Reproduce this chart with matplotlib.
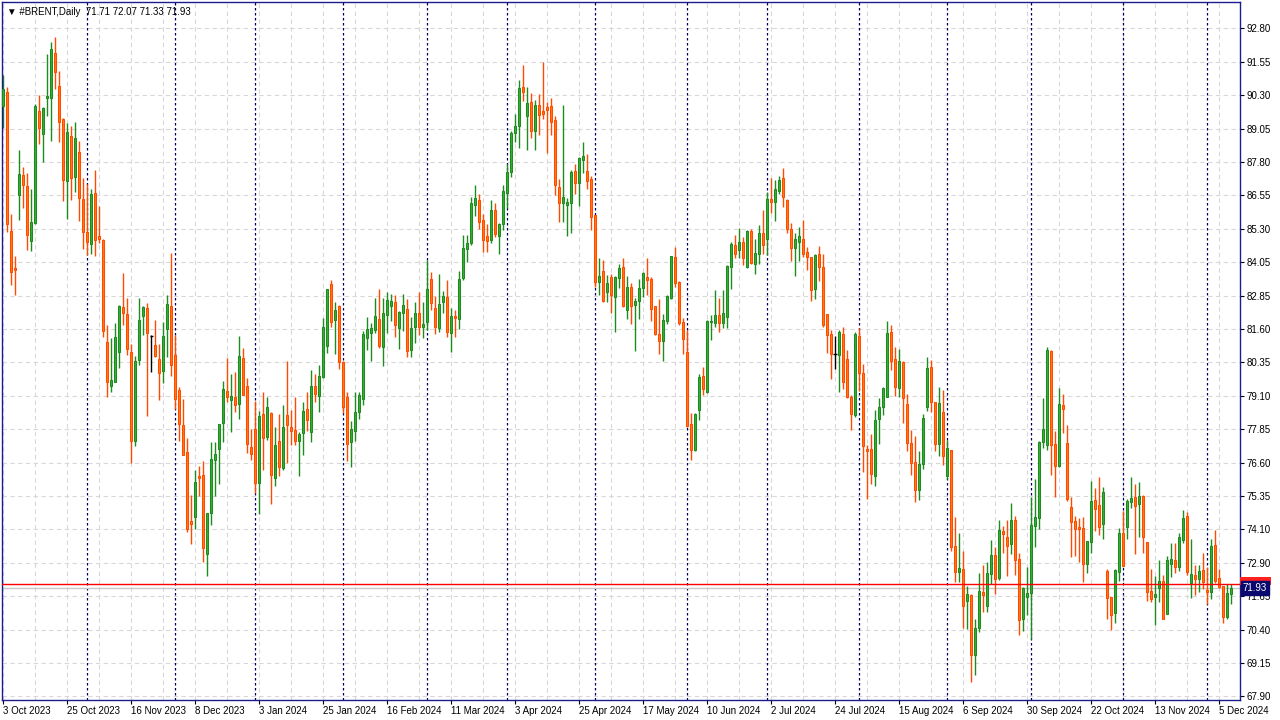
import matplotlib
matplotlib.use('Agg')
import matplotlib.pyplot as plt
from matplotlib.patches import Rectangle
import numpy as np

# Daily candles #BRENT, 3 Oct 2023 .. 10 Dec 2024
opens = [
    89.92, 90.43, 85.25, 83.87, 86.58, 87.32, 86.92, 84.86, 85.56, 89.72,
    88.85, 90.22, 90.19, 91.87, 90.64, 89.41, 87.09, 88.77, 87.27, 88.18,
    86.43, 85.20, 84.75, 86.65, 85.06, 84.90, 81.10, 79.48, 79.63, 80.75,
    82.40, 82.14, 80.72, 77.43, 80.45, 82.09, 82.36, 81.33, 80.98, 80.46,
    80.04, 81.61, 82.45, 80.61, 79.32, 78.02, 77.01, 74.44, 74.60, 76.12,
    76.14, 73.20, 74.75, 76.72, 77.11, 78.10, 79.27, 78.93, 79.05, 78.80,
    80.50, 79.46, 77.18, 77.85, 75.84, 78.41, 77.56, 78.45, 76.03, 77.41,
    76.40, 78.38, 77.93, 77.83, 77.41, 77.70, 78.60, 77.77, 79.46, 79.08,
    79.79, 80.97, 83.26, 81.92, 82.45, 80.36, 79.06, 77.39, 77.78, 78.49,
    79.00, 81.27, 81.46, 81.57, 81.97, 80.91, 82.13, 82.44, 82.59, 81.64,
    82.20, 82.35, 80.80, 81.68, 82.18, 81.68, 81.87, 83.46, 82.38, 81.62,
    82.59, 82.77, 81.46, 82.09, 81.95, 83.51, 84.56, 84.79, 86.23, 86.40,
    85.66, 85.06, 84.92, 86.02, 85.07, 85.49, 86.67, 87.46, 88.91, 89.15,
    90.61, 89.54, 90.04, 88.99, 89.93, 89.72, 89.87, 89.90, 89.38, 86.89,
    86.27, 86.23, 86.30, 87.48, 87.05, 87.90, 87.47, 87.17, 85.83, 83.36,
    83.74, 82.97, 83.52, 82.80, 83.49, 83.89, 82.29, 83.15, 82.48, 82.65,
    83.11, 83.52, 83.44, 82.44, 81.39, 81.16, 81.90, 82.76, 84.28, 83.35,
    81.85, 80.72, 78.05, 77.08, 78.59, 79.84, 79.26, 81.87, 81.80, 82.10,
    81.83, 82.03, 83.92, 84.71, 84.53, 84.82, 83.89, 85.23, 84.00, 84.38,
    85.16, 84.96, 86.43, 86.34, 86.75, 87.21, 86.39, 85.31, 84.62, 84.84,
    84.93, 84.45, 84.26, 83.10, 84.38, 83.89, 82.14, 81.39, 80.66, 80.64,
    81.39, 80.48, 79.06, 78.40, 81.33, 79.94, 77.12, 77.12, 76.13, 78.23,
    78.70, 79.07, 81.48, 80.48, 79.41, 80.36, 78.80, 77.33, 76.62, 75.61,
    76.55, 78.67, 80.16, 78.86, 77.32, 78.50, 76.13, 77.08, 73.49, 72.55,
    72.64, 71.47, 71.67, 69.46, 70.43, 71.78, 71.25, 72.47, 73.17, 72.33,
    74.07, 73.84, 73.57, 74.48, 73.01, 70.80, 71.59, 71.77, 74.26, 74.56,
    77.39, 77.26, 80.76, 77.31, 76.48, 78.75, 77.33, 74.95, 74.43, 74.20,
    74.18, 72.82, 73.67, 75.21, 75.02, 74.31, 72.57, 71.60, 71.00, 72.55,
    73.99, 74.23, 75.13, 75.32, 75.06, 75.37, 73.65, 71.83, 71.62, 71.95,
    72.19, 70.98, 72.85, 72.98, 72.74, 73.74, 74.61, 72.11, 72.41, 72.29,
    72.61, 71.87, 71.80, 73.54, 72.30, 72.01, 70.87, 71.71,
]
highs = [
    91.06, 90.60, 85.88, 84.32, 88.27, 87.63, 87.40, 86.81, 89.98, 90.31,
    89.85, 91.84, 92.29, 92.48, 91.21, 89.45, 89.27, 89.16, 89.31, 88.60,
    87.22, 87.00, 86.81, 87.52, 86.18, 84.95, 81.74, 81.25, 81.80, 82.49,
    83.67, 82.74, 81.03, 80.59, 82.75, 82.45, 82.57, 81.37, 81.93, 81.02,
    81.85, 82.86, 84.44, 81.37, 79.44, 78.98, 77.53, 75.41, 76.34, 76.49,
    76.67, 74.75, 77.38, 77.37, 78.05, 79.65, 80.50, 79.92, 79.98, 81.33,
    80.88, 79.75, 77.87, 78.91, 78.54, 79.24, 79.06, 78.51, 77.94, 78.41,
    78.75, 80.39, 78.59, 79.06, 77.75, 78.87, 79.24, 80.06, 79.92, 80.25,
    81.99, 83.10, 83.41, 82.61, 82.49, 80.40, 79.24, 78.16, 79.23, 79.24,
    81.52, 82.04, 81.83, 82.75, 83.08, 82.75, 82.97, 82.91, 82.86, 82.25,
    82.90, 82.72, 82.05, 82.60, 82.96, 82.59, 84.17, 83.72, 82.82, 83.64,
    83.01, 83.42, 82.39, 82.29, 83.77, 85.10, 85.10, 86.50, 86.96, 86.63,
    85.87, 85.51, 86.40, 86.29, 85.54, 86.95, 87.73, 88.97, 89.59, 90.87,
    91.43, 90.61, 90.39, 90.12, 90.35, 91.56, 90.05, 90.20, 89.53, 87.18,
    89.94, 86.46, 87.51, 87.73, 88.02, 88.55, 88.12, 87.31, 85.85, 84.24,
    84.17, 83.61, 83.64, 83.57, 84.02, 84.24, 83.56, 83.31, 82.74, 83.46,
    83.72, 84.24, 83.52, 82.46, 82.71, 82.15, 82.85, 84.33, 84.65, 83.37,
    82.02, 81.56, 78.45, 78.48, 79.93, 80.18, 81.93, 82.12, 83.05, 82.75,
    83.05, 83.97, 84.85, 85.10, 85.36, 85.01, 85.30, 85.32, 84.95, 85.46,
    86.03, 86.69, 87.22, 87.15, 87.31, 87.59, 86.42, 85.53, 85.16, 85.38,
    85.64, 84.64, 84.27, 84.39, 84.70, 84.39, 82.16, 81.56, 81.33, 81.56,
    81.66, 80.81, 79.12, 81.48, 81.64, 80.29, 77.27, 77.68, 78.57, 79.02,
    79.44, 81.89, 81.73, 80.91, 80.85, 80.40, 79.17, 77.83, 77.61, 77.05,
    78.41, 80.56, 80.44, 78.88, 79.43, 79.31, 77.44, 77.10, 74.59, 73.99,
    73.32, 72.02, 71.70, 70.79, 72.50, 72.80, 72.91, 73.73, 73.48, 74.48,
    74.25, 74.48, 75.11, 74.64, 73.25, 71.96, 72.72, 75.33, 76.00, 77.40,
    79.01, 80.94, 80.81, 77.79, 79.39, 79.17, 78.02, 75.33, 74.62, 74.56,
    74.57, 73.70, 75.93, 75.67, 76.08, 75.71, 72.65, 71.62, 72.66, 74.18,
    74.81, 75.26, 76.09, 75.82, 75.88, 75.40, 73.67, 72.65, 72.40, 72.98,
    72.41, 73.12, 73.62, 73.62, 74.00, 74.86, 74.77, 73.77, 72.78, 72.81,
    73.24, 72.73, 73.77, 74.10, 72.66, 72.03, 72.10, 72.07,
]
lows = [
    89.10, 85.20, 83.23, 82.86, 85.66, 86.12, 84.54, 84.51, 85.50, 88.50,
    87.83, 89.54, 88.61, 90.54, 88.58, 86.38, 85.69, 86.41, 86.68, 85.63,
    84.59, 84.35, 84.40, 84.33, 84.81, 81.28, 79.04, 79.26, 79.60, 80.15,
    81.74, 80.64, 76.59, 77.23, 80.25, 81.38, 78.36, 79.99, 80.54, 78.96,
    79.59, 80.56, 79.85, 78.60, 77.42, 76.89, 74.04, 73.58, 74.15, 75.35,
    72.92, 72.40, 74.30, 75.38, 75.82, 77.39, 78.88, 77.74, 78.51, 78.24,
    79.12, 76.96, 76.72, 75.49, 74.69, 76.35, 77.47, 75.08, 75.75, 76.13,
    76.35, 76.60, 77.26, 77.27, 76.13, 76.91, 77.79, 77.39, 78.86, 78.51,
    79.75, 80.69, 81.68, 80.67, 80.11, 78.45, 76.67, 76.46, 77.43, 78.25,
    78.77, 80.82, 80.40, 81.44, 80.88, 80.23, 81.44, 81.90, 81.29, 80.86,
    81.51, 80.56, 80.55, 81.08, 81.37, 81.27, 81.54, 82.29, 81.41, 81.49,
    82.20, 81.31, 80.74, 81.31, 81.61, 83.42, 84.10, 84.72, 85.82, 85.33,
    84.48, 84.48, 84.79, 85.03, 84.40, 85.28, 86.09, 87.27, 88.55, 88.35,
    90.10, 88.28, 88.72, 88.28, 88.84, 89.43, 88.17, 88.84, 86.60, 85.59,
    85.58, 85.07, 85.18, 86.64, 86.19, 87.40, 86.81, 85.30, 83.15, 82.87,
    82.60, 82.61, 82.20, 81.49, 83.13, 82.43, 81.98, 81.79, 80.79, 81.98,
    82.77, 82.87, 81.90, 81.37, 80.67, 80.41, 81.79, 82.72, 83.17, 81.76,
    80.67, 77.95, 76.71, 77.03, 78.19, 79.15, 79.22, 81.18, 81.68, 81.49,
    81.62, 81.64, 83.10, 84.24, 84.24, 83.99, 83.85, 84.03, 83.66, 84.00,
    84.38, 84.36, 85.93, 85.63, 86.61, 86.15, 85.18, 84.13, 83.58, 84.14,
    84.29, 83.79, 82.65, 82.71, 83.39, 81.68, 80.71, 79.74, 80.12, 79.26,
    79.37, 79.02, 77.83, 78.33, 79.30, 76.25, 75.25, 75.80, 75.75, 77.32,
    78.40, 79.05, 80.08, 79.11, 79.07, 78.08, 77.03, 76.16, 75.16, 75.22,
    76.39, 78.52, 78.51, 77.03, 76.86, 76.52, 75.99, 73.33, 72.18, 72.18,
    70.43, 70.41, 68.45, 68.70, 70.31, 71.06, 71.06, 72.07, 71.72, 72.24,
    73.26, 72.40, 73.21, 72.43, 70.19, 70.35, 70.92, 70.02, 73.46, 74.15,
    77.17, 77.08, 76.16, 75.32, 76.45, 77.73, 75.18, 73.11, 73.15, 72.92,
    72.18, 72.51, 73.23, 74.08, 73.93, 73.77, 70.77, 70.37, 70.65, 72.20,
    72.75, 73.78, 74.93, 73.19, 73.84, 73.26, 71.46, 71.42, 70.57, 71.42,
    70.78, 70.97, 72.36, 72.50, 72.59, 73.62, 72.41, 71.58, 71.67, 71.78,
    71.89, 71.34, 71.54, 72.11, 71.94, 70.64, 70.77, 71.33,
]
closes = [
    90.53, 85.50, 83.71, 83.78, 87.36, 86.97, 85.09, 85.57, 89.89, 89.10,
    89.82, 90.28, 92.02, 91.18, 89.32, 87.16, 88.92, 87.21, 88.70, 86.46,
    85.20, 84.82, 86.61, 84.90, 84.96, 81.51, 79.61, 79.68, 81.28, 82.45,
    82.18, 80.86, 77.43, 80.39, 81.92, 82.40, 81.46, 81.33, 80.59, 79.94,
    81.33, 82.51, 80.26, 79.00, 78.07, 76.91, 74.15, 74.34, 75.88, 76.05,
    73.44, 74.72, 76.74, 76.93, 78.04, 79.34, 79.05, 79.08, 78.75, 80.57,
    79.15, 77.32, 76.92, 75.84, 78.34, 77.52, 78.67, 76.14, 77.26, 76.46,
    77.95, 78.03, 77.80, 77.41, 77.67, 78.52, 78.19, 79.46, 79.18, 79.83,
    81.65, 83.07, 81.87, 82.29, 80.38, 78.67, 77.32, 77.85, 78.49, 79.12,
    81.39, 81.58, 81.63, 82.06, 80.96, 82.18, 82.66, 82.62, 81.75, 82.21,
    82.47, 80.79, 81.63, 82.18, 81.68, 81.77, 83.07, 82.58, 81.68, 82.51,
    82.81, 81.49, 82.08, 82.02, 83.46, 84.60, 84.79, 86.29, 86.48, 85.57,
    84.92, 84.89, 86.02, 85.12, 85.49, 86.72, 87.45, 88.89, 89.15, 90.58,
    90.41, 90.00, 88.99, 89.93, 89.58, 89.62, 89.77, 89.32, 86.95, 86.27,
    86.51, 86.33, 87.45, 87.05, 87.95, 88.03, 87.12, 85.78, 83.36, 83.57,
    82.65, 83.30, 82.87, 83.52, 83.85, 82.46, 83.15, 82.44, 82.62, 83.11,
    83.67, 83.43, 82.35, 81.39, 81.16, 81.92, 82.81, 84.31, 83.32, 81.82,
    81.23, 77.99, 77.10, 78.43, 79.81, 79.37, 81.89, 81.89, 82.10, 81.80,
    82.18, 83.94, 84.75, 84.38, 84.82, 84.25, 85.25, 84.07, 84.41, 85.16,
    84.72, 86.43, 86.33, 86.80, 87.13, 86.52, 85.31, 84.62, 84.93, 85.05,
    84.40, 84.29, 83.06, 84.35, 83.92, 81.76, 81.38, 80.65, 80.66, 81.47,
    79.61, 79.05, 78.41, 81.39, 79.94, 77.25, 77.06, 76.17, 78.20, 78.67,
    79.40, 81.44, 80.41, 79.42, 80.40, 79.03, 77.33, 76.61, 75.61, 76.55,
    78.26, 80.13, 78.86, 77.32, 78.84, 76.87, 77.15, 73.46, 72.52, 72.67,
    71.28, 71.70, 69.46, 70.45, 71.83, 71.68, 72.50, 73.17, 72.29, 74.10,
    73.97, 73.52, 74.48, 73.00, 70.76, 71.94, 71.74, 74.28, 74.57, 77.37,
    77.85, 80.81, 77.28, 76.48, 78.79, 78.60, 75.27, 74.41, 74.15, 74.12,
    72.82, 73.68, 75.17, 74.87, 74.20, 75.51, 71.56, 70.95, 72.61, 73.99,
    72.77, 75.17, 75.28, 74.98, 75.36, 73.83, 71.78, 71.54, 71.70, 72.19,
    70.80, 72.97, 73.01, 72.74, 73.83, 74.54, 72.55, 72.45, 72.29, 72.56,
    72.18, 71.80, 73.50, 72.21, 71.96, 70.85, 71.75, 71.93,
]

date_labels = ['3 Oct 2023', '25 Oct 2023', '16 Nov 2023', '8 Dec 2023', '3 Jan 2024',
               '25 Jan 2024', '16 Feb 2024', '11 Mar 2024', '3 Apr 2024', '25 Apr 2024',
               '17 May 2024', '10 Jun 2024', '2 Jul 2024', '24 Jul 2024', '15 Aug 2024',
               '6 Sep 2024', '30 Sep 2024', '22 Oct 2024', '13 Nov 2024', '5 Dec 2024']
# first bar of each month (period separators)
month_starts = [21, 43, 63, 85, 106, 126, 148, 171, 191, 214, 236, 257, 280, 301]

price_labels = ['67.90', '69.15', '70.40', '71.65', '72.90', '74.10', '75.35', '76.60',
                '77.85', '79.10', '80.35', '81.60', '82.85', '84.05', '85.30', '86.55',
                '87.80', '89.05', '90.30', '91.55', '92.80']
price_levels = np.linspace(67.90, 92.80, len(price_labels))

bid = 71.93
ask = 72.08

o = np.array(opens)
h = np.array(highs)
l = np.array(lows)
c = np.array(closes)
x = np.arange(len(o))

bull_face, bull_edge = '#33b033', '#1f8a1f'
bear_face, bear_edge = '#ff7a10', '#ff4a00'
FONT = 'Liberation Sans'

fig = plt.figure(figsize=(12.8, 7.2), dpi=100)
ax = fig.add_axes([2 / 1280, 20 / 720, 1238 / 1280, 698 / 720])

# grid
for lv in price_levels:
    ax.axhline(lv, color='#d8d8d8', lw=0.8, ls=(0, (4, 3)), zorder=0)
for gx in range(0, len(o) + 8, 8):
    ax.axvline(gx, color='#d8d8d8', lw=0.8, ls=(0, (4, 3)), zorder=0)
for ms in month_starts:
    ax.axvline(ms, color='#000060', lw=0.9, ls=(0, (2, 2)), zorder=1)

up = c > o
down = c < o
flat = c == o

for mask, face, edge in [(up, bull_face, bull_edge), (down, bear_face, bear_edge)]:
    ax.vlines(x[mask], l[mask], h[mask], color=edge, lw=1.0, zorder=2)
    ax.bar(x[mask], (c - o)[mask], bottom=o[mask], width=0.55,
           color=face, edgecolor=edge, linewidth=0.75, zorder=3)
ax.vlines(x[flat], l[flat], h[flat], color='black', lw=1.0, zorder=2)
ax.hlines(o[flat], x[flat] - 0.45, x[flat] + 0.45, color='black', lw=1.0, zorder=3)

# ask / bid lines
ax.axhline(ask, color='#ff0000', lw=1.0, zorder=4)
ax.axhline(bid, color='#c8c8c8', lw=1.0, zorder=1)

ax.set_xlim(-0.33, 309.2)
ax.set_ylim(67.765, 93.78)

ax.yaxis.tick_right()
ax.set_yticks(price_levels)
ax.set_yticklabels(price_labels, fontsize=7, family=FONT)
ax.set_xticks(np.arange(0, 16 * len(date_labels), 16))
ax.set_xticklabels(date_labels, fontsize=7, ha='left', family=FONT)
ax.tick_params(axis='both', length=3, width=0.8, color='black', pad=2)
ax.tick_params(axis='x', pad=1)
for s in ax.spines.values():
    s.set_color('#1c1c8c')
    s.set_linewidth(1.0)

# ask marker (partly hidden behind the bid box) and bid price box
ax.add_patch(Rectangle((1.0, ask - 0.02), 0.025, 0.28, transform=ax.get_yaxis_transform(),
                       fc='#ff2020', ec='none', clip_on=False, zorder=5))
ax.text(1.002, bid, f'{bid:.2f}', transform=ax.get_yaxis_transform(), fontsize=7,
        family=FONT, va='center', ha='left', color='white', zorder=6,
        bbox=dict(boxstyle='square,pad=0.2', fc='#0a0a6e', ec='#0a0a6e'), clip_on=False)

ax.text(0.004, 0.993, '\u25bc #BRENT,Daily  71.71 72.07 71.33 71.93', transform=ax.transAxes,
        fontsize=7, family=[FONT, 'DejaVu Sans'], va='top', ha='left', color='black')

fig.savefig('out.png', dpi=100)
